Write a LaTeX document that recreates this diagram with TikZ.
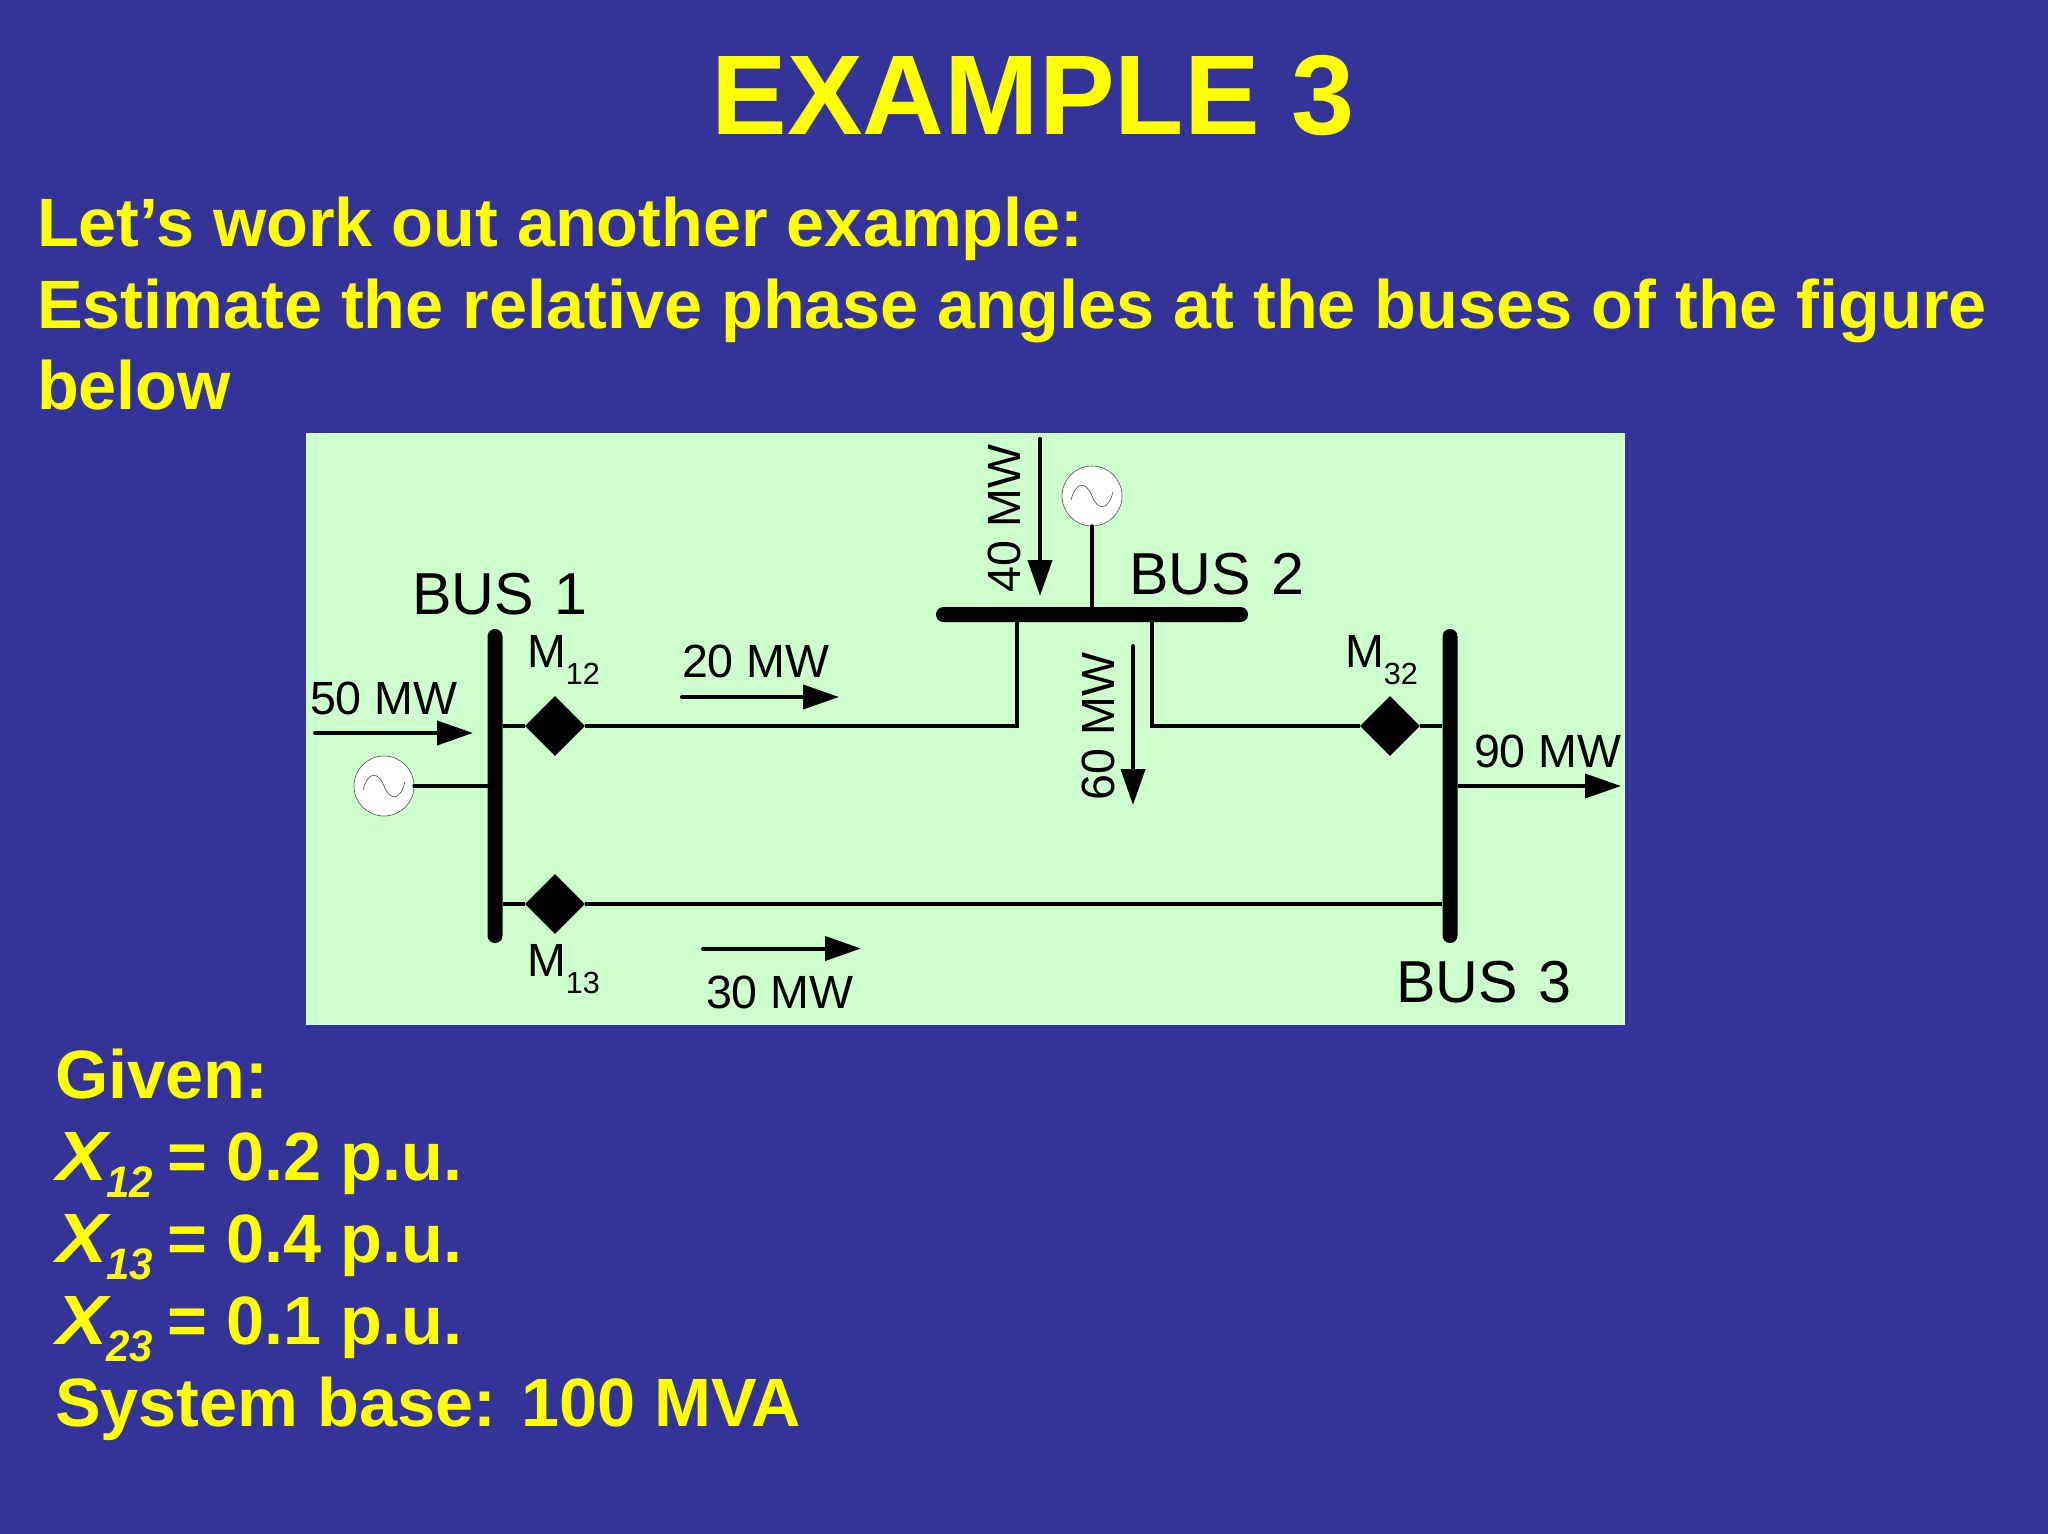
\documentclass[tikz,border=0pt]{standalone}
\usepackage{fontspec}
\setmainfont{Liberation Sans}
\usetikzlibrary{arrows.meta,shapes.geometric}
\definecolor{slidebg}{HTML}{333399}
\definecolor{panelbg}{HTML}{CCFFCC}
\definecolor{slidefg}{HTML}{FFFF00}
\newcommand{\fpx}[1]{\fontsize{#1}{#1}\selectfont}
\newcommand{\msub}[1]{M\raisebox{-8.75pt}{\fpx{15.3}#1}}
\newcommand{\xsub}[1]{{\itshape\scalebox{1.12}[1.02]{X}\hspace{-0.5pt}\raisebox{-8.5pt}{\scalebox{1}[1.05]{\fpx{21}#1}}\hspace{-2pt}}}
\newcommand{\busname}[2]{#1\hspace{2pt} #2}
\tikzset{
  lab/.style={anchor=base west,inner sep=0pt,outer sep=0pt,text=black},
  big/.style={lab,font=\fpx{29.6}},
  mid/.style={lab,font=\fpx{23.3}},
  head/.style={lab,text=slidefg,font=\bfseries\fpx{34.2}},
  busv/.style={fill=black,rounded corners=3.7pt,inner sep=0pt,minimum width=7.5pt,minimum height=157pt},
  bush/.style={fill=black,rounded corners=3.7pt,inner sep=0pt,minimum width=156pt,minimum height=7.5pt},
  meter/.style={diamond,fill=black,inner sep=0pt,aspect=1,minimum width=30pt,minimum height=30pt},
  gen/.style={circle,draw=black!70,line width=0.3pt,fill=white,inner sep=0pt,minimum size=30pt},
  wire/.style={line width=2pt,draw=black},
  flow/.style={line width=2pt,draw=black,line cap=round,-{Triangle[length=18pt,width=12pt]}},
  sine/.style={line width=0.3pt,draw=black!70},
}
\begin{document}
\begin{tikzpicture}[x=0.5pt,y=-0.5pt]
\useasboundingbox (0,0) rectangle (2048,1534);
\fill[slidebg] (0,0) rectangle (2048,1534);
\fill[panelbg] (306,433) rectangle (1625,1025);

% Slide text
\node[lab,text=slidefg,font=\bfseries\fpx{56.7}] (title) at (711.5,134.5) {EXAMPLE 3};
\node[head] (t1) at (37,247) {Let’s work out another example:};
\node[head] (t2) at (37,329) {Estimate the relative phase angles at the buses of the figure};
\node[head] (t3) at (37,410) {below};
\node[head] (g0) at (55,1098) {Given:};
\node[head] (g1t) at (56,1180) {\xsub{12} = 0.2 p.u.};
\node[head] (g2t) at (56,1262) {\xsub{13} = 0.4 p.u.};
\node[head] (g3t) at (56,1344) {\xsub{23} = 0.1 p.u.};
\node[head] (g4) at (55,1426) {System base: 100 MVA};

% Buses
\node[busv] (bus1) at (495,786) {};
\node[busv] (bus3) at (1450,786) {};
\node[bush] (bus2) at (1092,614.5) {};

% Meters
\node[meter] (m12) at (555,726) {};
\node[meter] (m13) at (555,904) {};
\node[meter] (m32) at (1390,726) {};

% Generators
\node[gen] (gen1) at (384,786) {};
\node[gen] (gen2) at (1092,496) {};
\foreach \g in {gen1,gen2}{
  \draw[sine,shift={(\g)}] (-21,4) .. controls (-16,-15) and (-6,-15) .. (0,0)
     .. controls (6,15) and (16,15) .. (21,-4);
}

% Lines
\coordinate (c12) at (1017,726);
\coordinate (c32) at (1152,726);
\draw[wire] (bus1.east |- m12) -- (m12);
\draw[wire] (m12) -- (c12) -- (c12 |- bus2.south);
\draw[wire] (bus1.east |- m13) -- (m13);
\draw[wire] (m13) -- (bus3.west |- m13);
\draw[wire] (c32 |- bus2.south) -- (c32) -- (m32);
\draw[wire] (m32) -- (bus3.west |- m32);
\draw[wire,line cap=round] (gen1.east) -- (bus1.west |- gen1);
\draw[wire,line cap=round] (gen2.south) -- (gen2.south |- bus2.north);

% Flow arrows
\coordinate (a50s) at (315,733);  \coordinate (a50e) at (473,733);
\coordinate (a20s) at (682,697);  \coordinate (a20e) at (839,697);
\coordinate (a30s) at (703,948.5);\coordinate (a30e) at (861,948.5);
\coordinate (a40s) at (1040,439); \coordinate (a40e) at (1040,596);
\coordinate (a60s) at (1133,646); \coordinate (a60e) at (1133,805);
\coordinate (a90e) at (1621,786);
\draw[flow] (a50s) -- (a50e);
\draw[flow] (a20s) -- (a20e);
\draw[flow] (a30s) -- (a30e);
\draw[flow] (a40s) -- (a40e);
\draw[flow] (a60s) -- (a60e);
\draw[flow,line cap=butt] (bus3.east |- a90e) -- (a90e);

% Labels
\node[big] (lb1) at (412,614.5) {\busname{BUS}{1}};
\node[big] (lb2) at (1129,594) {\busname{BUS}{2}};
\node[big] (lb3) at (1396,1002) {\busname{BUS}{3}};
\node[mid] (l50) at (310,714) {50 MW};
\node[mid] (l20) at (682,677) {20 MW};
\node[mid] (l30) at (706,1008) {30 MW};
\node[mid] (l90) at (1474,767) {90 MW};
\node[mid,rotate=90] (l40) at (1020.5,592) {40 MW};
\node[mid,rotate=90] (l60) at (1114,800) {60 MW};
\node[mid] (lm12) at (527,667) {\msub{12}};
\node[mid] (lm13) at (527,976) {\msub{13}};
\node[mid] (lm32) at (1345,667) {\msub{32}};
\end{tikzpicture}
\end{document}
